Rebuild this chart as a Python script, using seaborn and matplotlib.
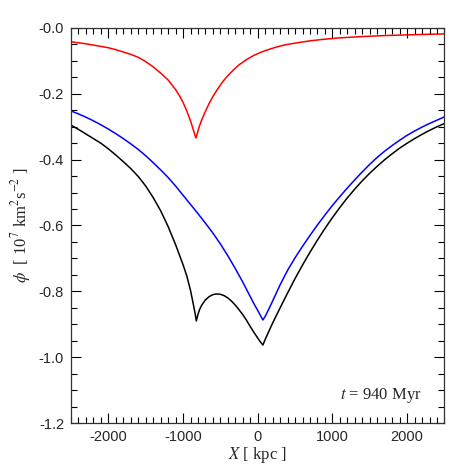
import numpy as np
import pandas as pd
import matplotlib
matplotlib.use("Agg")
import matplotlib.pyplot as plt
from matplotlib.ticker import MultipleLocator, FixedLocator, FixedFormatter
import seaborn as sns

# potential along X (kpc, 10^7 km^2 s^-2)
red_x = [-2500, -2400, -2300, -2200, -2100, -2000, -1900, -1800, -1700, -1600,
         -1500, -1400, -1300, -1200, -1100, -1050, -1000, -950, -900, -870, -845,
         -828, -810, -785, -750, -700, -650, -600, -550, -500, -450, -400, -324,
         -250, -150, -50, 50, 150, 250, 350, 500, 700, 900, 1100, 1400, 1700,
         2000, 2300, 2500]
red_y = [-0.042, -0.045, -0.048, -0.052, -0.056, -0.060, -0.066, -0.073, -0.080, -0.089,
         -0.102, -0.118, -0.137, -0.158, -0.187, -0.205, -0.226, -0.252, -0.282, -0.304, -0.322,
         -0.334, -0.321, -0.301, -0.279, -0.253, -0.229, -0.208, -0.190, -0.173, -0.158, -0.145, -0.127,
         -0.112, -0.096, -0.083, -0.073, -0.065, -0.058, -0.052, -0.046, -0.039, -0.034, -0.030, -0.026, -0.023,
         -0.021, -0.019, -0.018]

blue_x = [-2500, -2400, -2300, -2200, -2100, -2000, -1900, -1800, -1700, -1600,
          -1500, -1400, -1300, -1200, -1100, -1000, -900, -800, -700, -600, -500,
          -400, -300, -200, -100, -50, 0, 40, 69, 100, 150, 200, 300, 400, 500,
          600, 700, 800, 900, 1000, 1100, 1200, 1300, 1400, 1500, 1600, 1700, 1800,
          1900, 2000, 2100, 2200, 2300, 2400, 2500]
blue_y = [-0.252, -0.261, -0.271, -0.282, -0.294, -0.307, -0.321, -0.336, -0.352, -0.369,
          -0.388, -0.409, -0.431, -0.454, -0.480, -0.508, -0.536, -0.564, -0.593, -0.623, -0.656,
          -0.692, -0.731, -0.772, -0.816, -0.838, -0.858, -0.875, -0.887, -0.876, -0.853, -0.829, -0.780, -0.736, -0.698,
          -0.663, -0.630, -0.598, -0.568, -0.539, -0.512, -0.486, -0.461, -0.437, -0.414, -0.393, -0.374, -0.357,
          -0.341, -0.326, -0.313, -0.301, -0.290, -0.280, -0.270]

black_x = [-2500, -2400, -2300, -2200, -2100, -2000, -1900, -1800, -1700, -1600,
           -1500, -1400, -1300, -1200, -1100, -1000, -950, -900, -860, -840, -822,
           -800, -780, -750, -700, -650, -600, -556, -500, -450, -400, -350, -300,
           -250, -200, -150, -100, -50, 0, 40, 69, 100, 200, 300, 400, 500, 600,
           700, 800, 900, 1000, 1100, 1200, 1300, 1400, 1500, 1600, 1700, 1800,
           1900, 2000, 2100, 2200, 2300, 2400, 2500]
black_y = [-0.295, -0.308, -0.322, -0.336, -0.350, -0.367, -0.386, -0.406, -0.427, -0.451,
           -0.480, -0.515, -0.555, -0.603, -0.658, -0.719, -0.753, -0.797, -0.842, -0.865, -0.890,
           -0.870, -0.856, -0.842, -0.826, -0.816, -0.810, -0.808, -0.809, -0.813, -0.820, -0.830, -0.842,
           -0.856, -0.871, -0.888, -0.907, -0.925, -0.942, -0.955, -0.963, -0.946, -0.896, -0.850, -0.805, -0.761, -0.720,
           -0.681, -0.644, -0.609, -0.576, -0.545, -0.516, -0.489, -0.464, -0.441, -0.420, -0.400, -0.382,
           -0.365, -0.350, -0.336, -0.323, -0.311, -0.300, -0.290]

y_ticks = [0.0, -0.2, -0.4, -0.6, -0.8, -1.0, -1.2]
y_labels = ["-0.0", "-0.2", "-0.4", "-0.6", "-0.8", "-1.0", "-1.2"]
x_ticks = [-2000, -1000, 0, 1000, 2000]
x_labels = ["-2000", "-1000", "0", "1000", "2000"]

sns.set_style("ticks")
plt.rcParams["font.family"] = ["Liberation Sans", "DejaVu Sans"]
plt.rcParams["mathtext.fontset"] = "stix"
plt.rcParams["axes.unicode_minus"] = False

fig = plt.figure(figsize=(4.72, 4.72), dpi=100)
ax = fig.add_axes([0.1504, 0.1038, 0.7913, 0.8369])

for xs, ys, c in [(red_x, red_y, "red"), (blue_x, blue_y, "blue"), (black_x, black_y, "black")]:
    df = pd.DataFrame({"x": xs, "y": ys})
    sns.lineplot(data=df, x="x", y="y", color=c, linewidth=1.1, estimator=None, sort=False, ax=ax)

ax.set_xlim(-2500, 2500)
ax.set_ylim(-1.2, 0.0)

ax.xaxis.set_major_locator(FixedLocator(x_ticks))
ax.xaxis.set_major_formatter(FixedFormatter(x_labels))
ax.xaxis.set_minor_locator(MultipleLocator(100))
ax.yaxis.set_major_locator(FixedLocator(y_ticks))
ax.yaxis.set_major_formatter(FixedFormatter(y_labels))
ax.yaxis.set_minor_locator(MultipleLocator(0.05))

ax.tick_params(which="both", direction="in", top=True, right=True, color="black", width=0.8)
ax.tick_params(which="major", length=7.5, labelsize=10.5, pad=5)
ax.tick_params(which="minor", length=4)
for s in ax.spines.values():
    s.set_linewidth(0.9)
    s.set_color("#333333")

ax.set_xlabel(r"$X$ [ kpc ]", family="Liberation Serif", fontsize=12, labelpad=1)
ax.set_ylabel(r"$\phi$  [ 10$^7$ km$^2$s$^{-2}$ ]", family="Liberation Serif", fontsize=12, labelpad=4)

ax.text(2200, -1.115, r"$t$ = 940 Myr", ha="right", va="center",
        family="Liberation Serif", fontsize=12)

fig.savefig("out.png", dpi=100)
